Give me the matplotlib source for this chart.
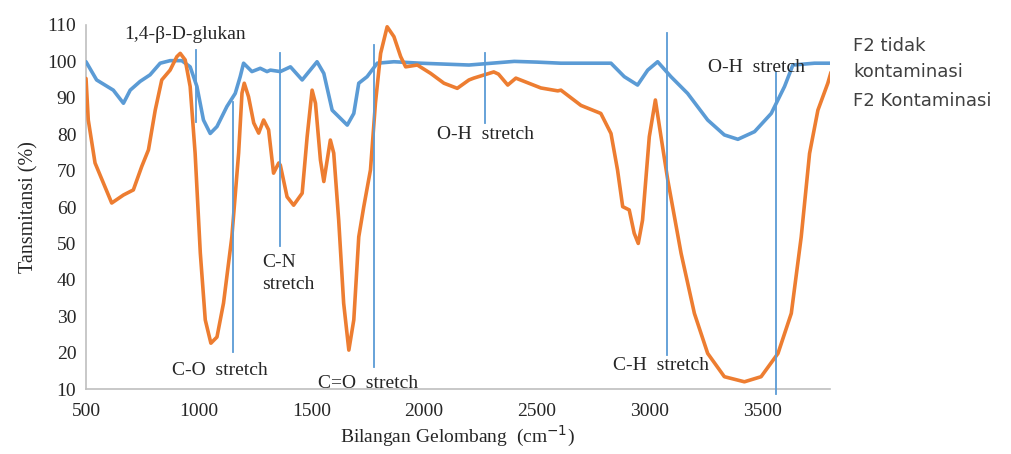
import matplotlib.pyplot as plt

# F2 tidak kontaminasi (blue)
wn_blue = [500, 547, 621, 666, 696, 740, 784, 829, 873, 925, 962, 992, 1021, 1051, 1081, 1125,
           1162, 1184, 1199, 1236, 1273, 1303, 1318, 1362, 1407, 1459, 1525, 1555, 1592, 1659,
           1688, 1710, 1747, 1792, 1866, 1984, 2199, 2300, 2400, 2500, 2607, 2829, 2888, 2947,
           2992, 3036, 3095, 3169, 3258, 3332, 3392, 3466, 3540, 3599, 3636, 3732, 3805]
t_blue = [99.9, 94.9, 92.1, 88.5, 92.1, 94.5, 96.3, 99.5, 100.2, 100.2, 98.5, 93.1, 83.9, 80.2, 82.1, 87.6,
          91.2, 95.8, 99.5, 97.2, 98.1, 97.2, 97.6, 97.2, 98.5, 94.9, 99.9, 96.7, 86.6, 82.5,
          85.7, 94.0, 95.8, 99.5, 99.9, 99.5, 99.0, 99.5, 100.0, 99.8, 99.5, 99.5, 95.8, 93.5,
          97.6, 99.9, 95.8, 91.2, 83.9, 79.8, 78.6, 80.7, 85.7, 93.1, 99.0, 99.5, 99.5]

# F2 Kontaminasi (orange)
wn_orange = [500, 510, 540, 577, 614, 666, 710, 747, 777, 807, 836, 873, 903, 918, 940, 962, 984,
             1007, 1029, 1054, 1081, 1110, 1147, 1177, 1192, 1202, 1221, 1244, 1266, 1288, 1310,
             1332, 1355, 1362, 1392, 1421, 1459, 1481, 1503, 1518, 1540, 1555, 1570, 1584, 1599,
             1621, 1643, 1666, 1688, 1710, 1732, 1762, 1784, 1807, 1836, 1866, 1896, 1918, 1970,
             2029, 2088, 2147, 2199, 2220, 2309, 2330, 2371, 2407, 2518, 2593, 2607, 2696, 2784,
             2829, 2858, 2881, 2910, 2932, 2950, 2969, 2999, 3026, 3051, 3081, 3140, 3199, 3258,
             3332, 3421, 3495, 3570, 3629, 3673, 3710, 3747, 3791, 3805]
t_orange = [95.3, 83.9, 72.1, 66.6, 61.1, 63.3, 64.7, 71.1, 75.7, 86.6, 94.9, 97.6, 101.3, 102.2, 100.4, 93.1, 74.8,
            47.4, 29.0, 22.6, 24.3, 33.6, 51.8, 74.8, 91.3, 94.0, 90.3, 83.1, 80.3, 83.9, 81.2,
            69.3, 72.1, 71.5, 62.8, 60.5, 63.8, 79.3, 92.1, 88.5, 72.9, 67.0, 72.9, 78.4, 74.8,
            56.4, 33.6, 20.7, 29.0, 51.8, 60.0, 70.2, 88.5, 102.2, 109.5, 106.8, 101.3, 98.5, 99.0,
            96.7, 94.0, 92.6, 94.9, 95.4, 97.1, 96.5, 93.5, 95.4, 92.7, 91.9, 92.1, 87.9, 85.7,
            80.2, 70.2, 60.1, 59.2, 52.8, 50.0, 56.4, 79.3, 89.4, 79.3, 67.4, 47.3, 30.8, 19.8,
            13.4, 12.0, 13.4, 19.8, 30.8, 51.8, 74.7, 86.6, 94.0, 97.0]

# band markers: position, y bottom, y top
band_x = [990, 1153, 1362, 1776, 2269, 3078, 3562]
band_lo = [83.4, 20.2, 49.3, 16.0, 83.0, 19.3, 8.6]
band_hi = [103.1, 88.9, 102.3, 104.5, 102.3, 107.8, 97.0]

# annotation labels
label_text = ["1,4-β-D-glukan", "C-O  stretch", "C-N\nstretch", "C=O  stretch",
              "O-H  stretch", "C-H  stretch", "O-H  stretch"]
label_x = [940, 1096, 1280, 1753, 2273, 3051, 3473]
label_y = [107.3, 15.2, 41.7, 11.6, 79.8, 16.6, 98.2]
label_ha = ["center", "center", "left", "center", "center", "center", "center"]

serif = "Liberation Serif"
txt_color = "#262626"

fig = plt.figure(figsize=(10.12, 4.54), dpi=100)
ax = fig.add_axes([0.085, 0.143, 0.735, 0.802])

ax.plot(wn_blue, t_blue, color="#5B9BD5", linewidth=2.6, solid_joinstyle="round",
        solid_capstyle="round", zorder=3)
ax.plot(wn_orange, t_orange, color="#ED7D31", linewidth=2.6, solid_joinstyle="round",
        solid_capstyle="round", zorder=3)

for x, lo, hi in zip(band_x, band_lo, band_hi):
    ax.plot([x, x], [lo, hi], color="#5B9BD5", linewidth=1.3, zorder=4, clip_on=False)

for s, x, y, ha in zip(label_text, label_x, label_y, label_ha):
    ax.text(x, y, s, ha=ha, va="center", fontsize=14, family=serif, color=txt_color,
            linespacing=1.35, zorder=5)

ax.set_xlim(500, 3800)
ax.set_ylim(10, 110)
ax.set_xticks([500, 1000, 1500, 2000, 2500, 3000, 3500])
ax.set_yticks(range(10, 111, 10))
ax.tick_params(axis="y", length=0, labelsize=14, colors=txt_color, pad=7)
ax.tick_params(axis="x", length=0, labelsize=14, colors=txt_color, pad=10)
for lab in ax.get_xticklabels() + ax.get_yticklabels():
    lab.set_family(serif)

for side in ["top", "right"]:
    ax.spines[side].set_visible(False)
for side in ["left", "bottom"]:
    ax.spines[side].set_color("#BFBFBF")
    ax.spines[side].set_linewidth(1.2)

ax.set_xlabel("Bilangan Gelombang  (cm$^{-1}$)", family=serif, fontsize=14, color=txt_color, labelpad=3)
ax.set_ylabel("Tansmitansi (%)", family=serif, fontsize=14.5, color=txt_color, labelpad=6)

# series names written beside the plot
fig.text(0.843, 0.870, "F2 tidak\nkontaminasi", family="DejaVu Sans", fontsize=13, color="#404040",
         va="center", ha="left", linespacing=1.55)
fig.text(0.843, 0.778, "F2 Kontaminasi", family="DejaVu Sans", fontsize=13, color="#404040",
         va="center", ha="left")

fig.savefig("out.png", dpi=100)
